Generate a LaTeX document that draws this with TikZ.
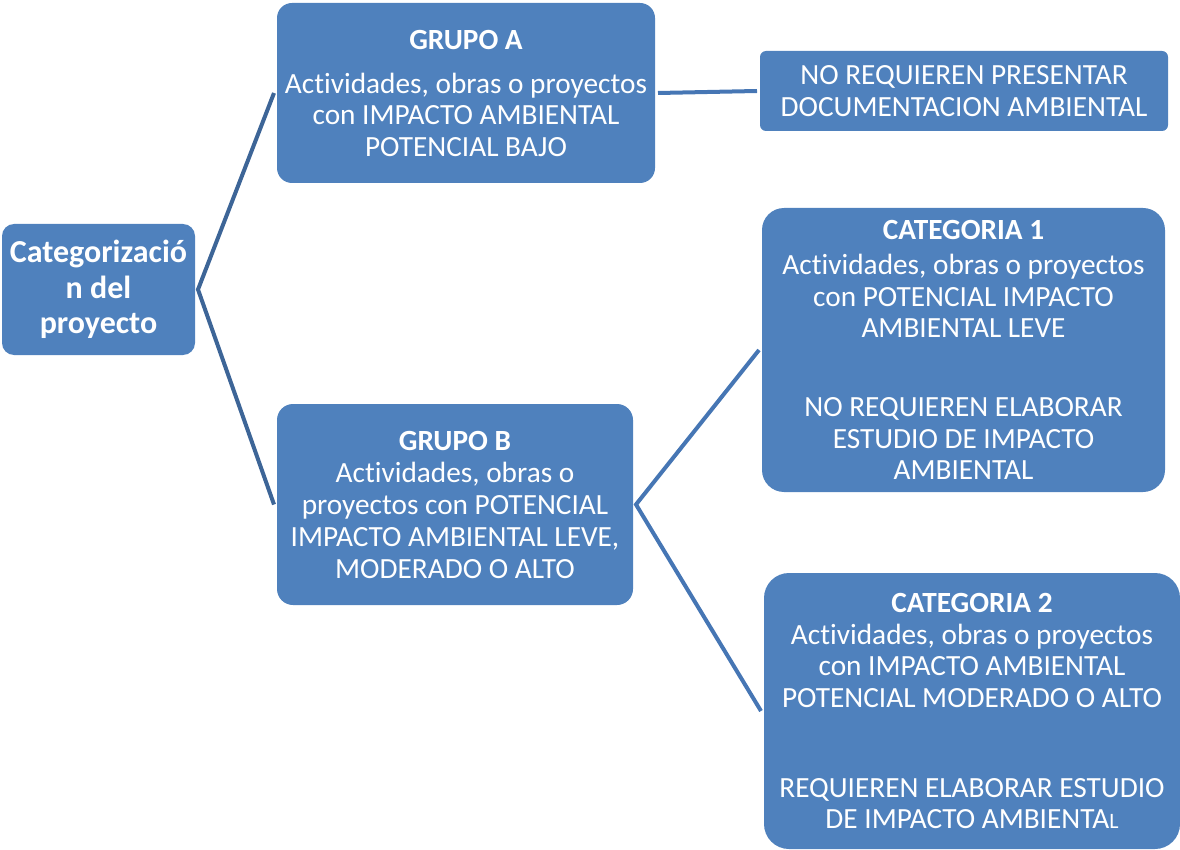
\documentclass[tikz,border=0pt]{standalone}
\usepackage{fontspec}
\setmainfont{Carlito}[Ligatures=NoCommon]
\definecolor{boxblue}{HTML}{4F81BD}
\definecolor{linkdark}{HTML}{3D6597}
\definecolor{linkmid}{HTML}{4676B4}
\tikzset{
  box/.style={fill=boxblue, draw=none, text=white, align=center, inner sep=0pt,
              outer sep=3pt, font=\fontsize{29.3}{31.5}\selectfont},
  link/.style={line width=4pt, line cap=butt},
}
\begin{document}
\begin{tikzpicture}[x=1pt,y=-1pt]
\useasboundingbox (0,0) rectangle (1180,850);

% root box
\node[box, minimum width=193, minimum height=131, rounded corners=12pt,
      font=\bfseries\fontsize{32}{35.5}\selectfont] (cat) at (98.5,289.5)
  {Categorizació\\n del\\proyecto};

% first level
\node[box, minimum width=378, minimum height=180, rounded corners=15pt] (ga) at (466,93)
  {\textbf{GRUPO A}\\[12.5pt]Actividades, obras o proyectos\\con IMPACTO AMBIENTAL\\POTENCIAL BAJO};
\node[box, minimum width=356, minimum height=201, rounded corners=16pt,
      font=\fontsize{29.3}{32}\selectfont] (gb) at (455,504.5)
  {\textbf{GRUPO B}\\Actividades, obras o\\proyectos con POTENCIAL\\IMPACTO AMBIENTAL LEVE,\\MODERADO O ALTO};

% second level
\node[box, minimum width=408, minimum height=80, rounded corners=6pt] (nr) at (964,91)
  {NO REQUIEREN PRESENTAR\\DOCUMENTACION AMBIENTAL};
\node[box, minimum width=403, minimum height=284, rounded corners=22pt] (c1) at (963.5,350)
  {\textbf{CATEGORIA 1}\\[3.5pt]Actividades, obras o proyectos\\con POTENCIAL IMPACTO\\AMBIENTAL LEVE\\[47.5pt]NO REQUIEREN ELABORAR\\ESTUDIO DE IMPACTO\\AMBIENTAL};
\node[box, minimum width=416, minimum height=276, rounded corners=25pt] (c2) at (972,711)
  {\textbf{CATEGORIA 2}\\Actividades, obras o proyectos\\con IMPACTO AMBIENTAL\\POTENCIAL MODERADO O ALTO\\[58.5pt]REQUIEREN ELABORAR ESTUDIO\\DE IMPACTO AMBIENTA{\fontsize{22}{31.5}\selectfont L}};

% connectors
\draw[link, linkdark] (ga.west) -- (cat.east) -- (gb.west);
\draw[link, linkmid] (ga.east) -- (nr.west);
\draw[link, linkmid] (c1.west) -- (gb.east) -- (c2.west);
\end{tikzpicture}
\end{document}
